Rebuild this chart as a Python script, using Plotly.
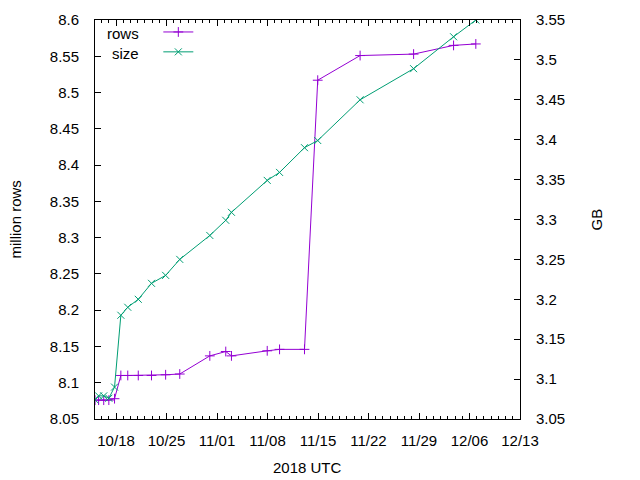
import plotly.graph_objects as go

# sample times (UTC)
dates = [
    "2018-10-15 02:00", "2018-10-15 14:00", "2018-10-16 07:00", "2018-10-17 00:00",
    "2018-10-17 19:00", "2018-10-18 16:00", "2018-10-19 15:00", "2018-10-21 02:00",
    "2018-10-22 22:00", "2018-10-24 21:00", "2018-10-26 20:00", "2018-10-31 00:00",
    "2018-11-02 05:00", "2018-11-03 00:00", "2018-11-07 23:00", "2018-11-09 16:00",
    "2018-11-13 03:00", "2018-11-14 23:00", "2018-11-20 20:00", "2018-11-28 06:00",
    "2018-12-03 19:00", "2018-12-06 21:00",
]
# million rows
rows = [
    8.076, 8.076, 8.076, 8.076, 8.078, 8.110, 8.110, 8.110, 8.110, 8.111, 8.112,
    8.137, 8.143, 8.137, 8.144, 8.146, 8.146, 8.517, 8.551, 8.553, 8.565, 8.567,
]
# GB
size = [
    3.074, 3.079, 3.079, 3.076, 3.090, 3.180, 3.190, 3.200, 3.220, 3.230, 3.250,
    3.280, 3.299, 3.309, 3.349, 3.359, 3.390, 3.399, 3.450, 3.489, 3.529, 3.550,
]

purple = "#9400d3"
green = "#009e73"
font = dict(family="Liberation Sans, Arial, sans-serif", size=15, color="black")

fig = go.Figure()
fig.add_trace(go.Scatter(
    x=dates, y=rows, name="", mode="lines+markers",
    line=dict(color=purple, width=1),
    marker=dict(symbol="cross-thin", size=7, line=dict(color=purple, width=1)),
))
fig.add_trace(go.Scatter(
    x=dates, y=size, name="", mode="lines+markers", yaxis="y2",
    line=dict(color=green, width=1),
    marker=dict(symbol="x-thin", size=7, line=dict(color=green, width=1)),
))

axis_common = dict(
    showline=True, linecolor="black", linewidth=1,
    ticks="inside", ticklen=6, tickcolor="black",
    showgrid=False, zeroline=False,
)

# the page body adds an 8px margin, so the figure's margins are shifted
# to keep the plot box where the reference has it
fig.update_layout(
    width=632, height=472,
    margin=dict(l=87, r=120, t=12, b=61, autoexpand=False),
    paper_bgcolor="white", plot_bgcolor="white",
    font=font,
    xaxis=dict(
        **axis_common, mirror="ticks", type="date",
        range=["2018-10-15 02:00", "2018-12-13 00:00"],
        tick0="2018-10-18", dtick=7 * 86400000, tickformat="%m/%d",
        ticklabelstandoff=8,
        minor=dict(dtick=86400000, tick0="2018-10-18", ticks="inside",
                   ticklen=3, tickcolor="black", showgrid=False),
    ),
    yaxis=dict(
        **axis_common, range=[8.05, 8.6], dtick=0.05, tick0=8.05,
        ticklabelstandoff=12,
    ),
    yaxis2=dict(
        **axis_common, overlaying="y", side="right",
        range=[3.05, 3.55], dtick=0.05, tick0=3.05,
        ticklabelstandoff=12,
    ),
    showlegend=True,
    legend=dict(x=0.149, y=1.0075, xanchor="left", yanchor="top",
                bgcolor="rgba(0,0,0,0)", tracegroupgap=0,
                font=dict(size=13)),
    annotations=[
        dict(text="rows", x=0.108, y=0.965, xref="paper", yref="paper",
             xanchor="right", yanchor="middle", showarrow=False),
        dict(text="size", x=0.108, y=0.917, xref="paper", yref="paper",
             xanchor="right", yanchor="middle", showarrow=False),
        dict(text="million rows", x=-0.1882, y=0.5, xref="paper", yref="paper",
             textangle=-90, showarrow=False, xanchor="center", yanchor="middle"),
        dict(text="GB", x=1.181, y=0.5, xref="paper", yref="paper",
             textangle=-90, showarrow=False, xanchor="center", yanchor="middle"),
        dict(text="2018 UTC", x=0.5, y=-0.1228, xref="paper", yref="paper",
             showarrow=False, xanchor="center", yanchor="middle"),
    ],
)

fig.write_html("out.html")
